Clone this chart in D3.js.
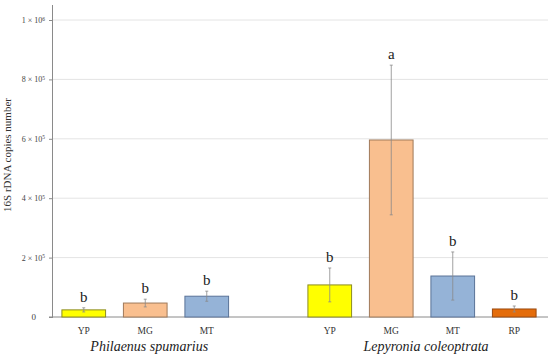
<!DOCTYPE html>
<html>
<head>
<meta charset="utf-8">
<script src="https://cdn.jsdelivr.net/npm/d3@7"></script>
<style>
  body { margin: 0; background: #fff; }
  text { font-family: "Liberation Serif", "DejaVu Serif", serif; }
</style>
</head>
<body>
<div id="chart"></div>
<script>
// categories: 3 for P. spumarius, an empty slot, 4 for L. coleoptrata
const slots = ['ps_YP', 'ps_MG', 'ps_MT', 'gap', 'lc_YP', 'lc_MG', 'lc_MT', 'lc_RP'];
const labels = ['YP', 'MG', 'MT', '', 'YP', 'MG', 'MT', 'RP'];
const values = [24000, 47000, 70000, null, 108000, 596000, 138000, 27000];
const errors = [7000, 13000, 17000, null, 57000, 252000, 81000, 10000];
const letters = ['b', 'b', 'b', '', 'b', 'a', 'b', 'b'];
const fills = ['#ffff00', '#f9bf8f', '#95b3d7', null, '#ffff00', '#f9bf8f', '#95b3d7', '#e46c0a'];
const strokes = ['#8c8c20', '#a07a5a', '#5a7398', null, '#8c8c20', '#a07a5a', '#5a7398', '#9a4a10'];
const groups = [
  {name: 'Philaenus spumarius', from: 'ps_YP', to: 'ps_MT'},
  {name: 'Lepyronia coleoptrata', from: 'lc_YP', to: 'lc_RP'}
];
const yTicks = [0, 200000, 400000, 600000, 800000, 1000000];

const W = 550, H = 356;
const margin = {t: 20, r: 5, b: 39, l: 53};

const svg = d3.select('#chart').append('svg')
  .attr('width', W)
  .attr('height', H);

const x = d3.scaleBand().domain(slots).range([margin.l, W - margin.r]).paddingInner(0.29).paddingOuter(0.145);
const y = d3.scaleLinear().domain([0, 1000000]).range([H - margin.b, margin.t]);

// gridlines
svg.append('g')
  .selectAll('line')
  .data(yTicks.slice(1))
  .join('line')
  .attr('x1', margin.l)
  .attr('x2', W - margin.r + 3)
  .attr('y1', d => y(d))
  .attr('y2', d => y(d))
  .attr('stroke', '#e4e4e4')
  .attr('stroke-width', 1);

// y axis
const axisY = d3.axisLeft(y)
  .tickValues(yTicks)
  .tickSize(4)
  .tickFormat(() => '');
const gy = svg.append('g')
  .attr('transform', `translate(${margin.l},0)`)
  .call(axisY);
gy.select('.domain').attr('stroke', '#8a8a8a').attr('d', `M-0.5,${y(0)}V5`);
gy.selectAll('.tick line').attr('stroke', '#8a8a8a');

gy.selectAll('.tick')
  .append('text')
  .attr('x', -8)
  .attr('dy', '0.32em')
  .attr('text-anchor', 'end')
  .attr('fill', '#444')
  .style('font-size', '8px')
  .each(function(d) {
    const t = d3.select(this);
    if (d === 0) { t.attr('x', -17).style('font-size', '9px').text('0'); return; }
    const e = Math.floor(Math.log10(d));
    const m = d / Math.pow(10, e);
    t.text(m + ' × 10');
    t.append('tspan').attr('dy', '-0.45em').style('font-size', '5.5px').text(e);
  });

// baseline
svg.append('line')
  .attr('x1', margin.l - 4)
  .attr('x2', W - margin.r + 3)
  .attr('y1', y(0))
  .attr('y2', y(0))
  .attr('stroke', '#8a8a8a');

// bars
const idx = d3.range(slots.length).filter(i => values[i] !== null);

svg.append('g')
  .selectAll('rect')
  .data(idx)
  .join('rect')
  .attr('x', i => x(slots[i]))
  .attr('y', i => y(values[i]))
  .attr('width', x.bandwidth())
  .attr('height', i => y(0) - y(values[i]))
  .attr('fill', i => fills[i])
  .attr('stroke', i => strokes[i])
  .attr('stroke-width', 1);

// error bars
const eb = svg.append('g')
  .selectAll('g')
  .data(idx)
  .join('g')
  .attr('stroke', '#8a8a8a')
  .attr('stroke-width', 0.8);
eb.append('line')
  .attr('x1', i => x(slots[i]) + x.bandwidth() / 2)
  .attr('x2', i => x(slots[i]) + x.bandwidth() / 2)
  .attr('y1', i => y(values[i] - errors[i]))
  .attr('y2', i => y(values[i] + errors[i]));
eb.selectAll('.cap')
  .data(i => [[i, values[i] - errors[i]], [i, values[i] + errors[i]]])
  .join('line')
  .attr('class', 'cap')
  .attr('x1', d => x(slots[d[0]]) + x.bandwidth() / 2 - 1.5)
  .attr('x2', d => x(slots[d[0]]) + x.bandwidth() / 2 + 1.5)
  .attr('y1', d => y(d[1]))
  .attr('y2', d => y(d[1]));

// letters
svg.append('g')
  .selectAll('text')
  .data(idx)
  .join('text')
  .attr('x', i => x(slots[i]) + x.bandwidth() / 2)
  .attr('y', i => y(values[i] + errors[i]) - 6)
  .attr('text-anchor', 'middle')
  .attr('fill', '#222')
  .style('font-size', '15px')
  .text(i => letters[i]);

// category labels
svg.append('g')
  .selectAll('text')
  .data(idx)
  .join('text')
  .attr('x', i => x(slots[i]) + x.bandwidth() / 2)
  .attr('y', y(0) + 17)
  .attr('text-anchor', 'middle')
  .attr('fill', '#333')
  .style('font-size', '9.5px')
  .text(i => labels[i]);

// group labels
svg.append('g')
  .selectAll('text')
  .data(groups)
  .join('text')
  .attr('x', d => (x(d.from) + x(d.to) + x.bandwidth()) / 2 + 4)
  .attr('y', y(0) + 34)
  .attr('text-anchor', 'middle')
  .attr('fill', '#222')
  .style('font-size', '14px')
  .style('font-style', 'italic')
  .text(d => d.name);

// y axis title
svg.append('text')
  .attr('transform', 'translate(11,155) rotate(-90)')
  .attr('text-anchor', 'middle')
  .attr('fill', '#333')
  .style('font-size', '11px')
  .text('16S rDNA copies number');
</script>
</body>
</html>
